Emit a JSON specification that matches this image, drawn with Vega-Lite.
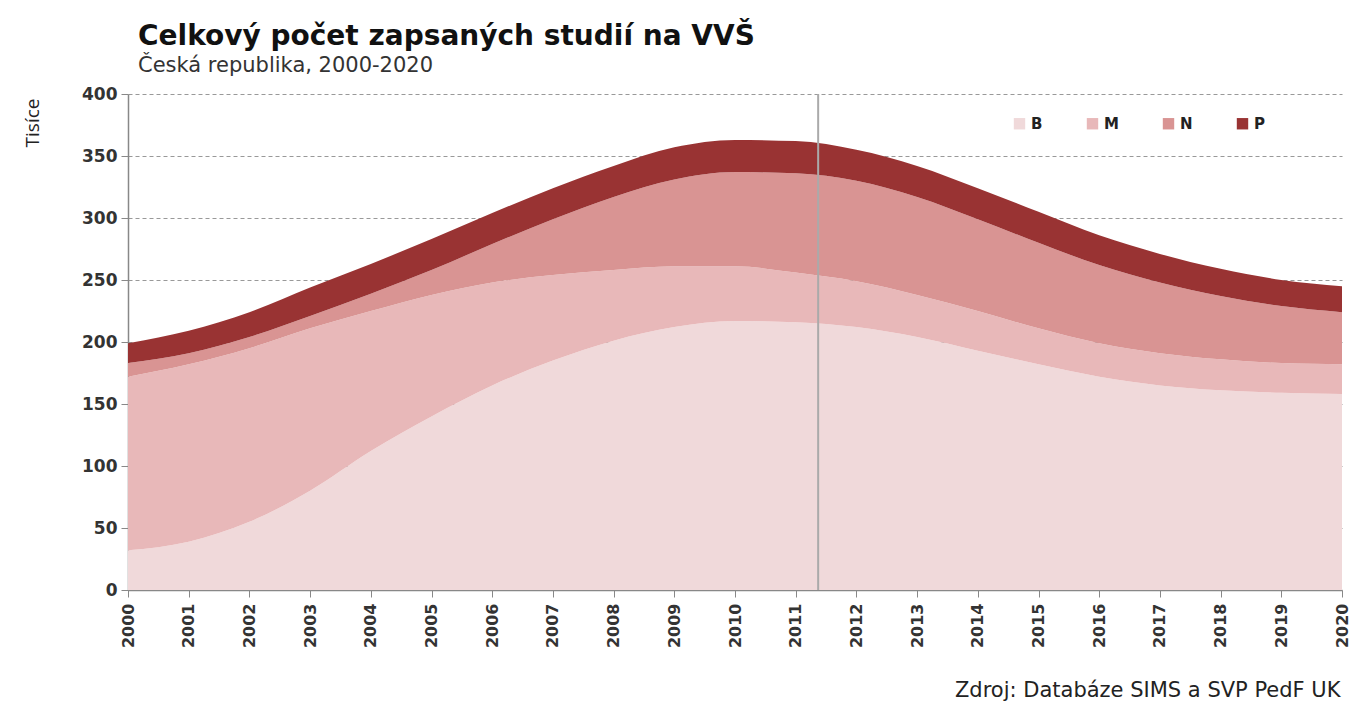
{
  "$schema": "https://vega.github.io/schema/vega-lite/v6.json",
  "width": 1214,
  "height": 496,
  "autosize": {"type": "none"},
  "padding": {"left": 128, "top": 94, "right": 15, "bottom": 111},
  "background": "white",
  "title": {
    "text": "Celkový počet zapsaných studií na VVŠ",
    "subtitle": "Česká republika, 2000-2020",
    "anchor": "start",
    "frame": "group",
    "dx": 10,
    "offset": 9,
    "font": "DejaVu Sans",
    "fontSize": 28,
    "fontWeight": "bold",
    "color": "#111",
    "subtitleFont": "DejaVu Sans",
    "subtitleFontSize": 21,
    "subtitleColor": "#333",
    "subtitlePadding": 4
  },
  "config": {
    "view": {"stroke": null},
    "axis": {"labelFont": "DejaVu Sans", "labelFontWeight": "bold", "labelColor": "#333"}
  },
  "datasets": {
    "studia": [
      {"rok": 2000, "typ": "B", "poradi": 1, "hodnota": 32},
      {"rok": 2001, "typ": "B", "poradi": 1, "hodnota": 39},
      {"rok": 2002, "typ": "B", "poradi": 1, "hodnota": 55},
      {"rok": 2003, "typ": "B", "poradi": 1, "hodnota": 80},
      {"rok": 2004, "typ": "B", "poradi": 1, "hodnota": 112},
      {"rok": 2005, "typ": "B", "poradi": 1, "hodnota": 140},
      {"rok": 2006, "typ": "B", "poradi": 1, "hodnota": 165},
      {"rok": 2007, "typ": "B", "poradi": 1, "hodnota": 185},
      {"rok": 2008, "typ": "B", "poradi": 1, "hodnota": 201},
      {"rok": 2009, "typ": "B", "poradi": 1, "hodnota": 212},
      {"rok": 2010, "typ": "B", "poradi": 1, "hodnota": 217},
      {"rok": 2011, "typ": "B", "poradi": 1, "hodnota": 216},
      {"rok": 2012, "typ": "B", "poradi": 1, "hodnota": 212},
      {"rok": 2013, "typ": "B", "poradi": 1, "hodnota": 204},
      {"rok": 2014, "typ": "B", "poradi": 1, "hodnota": 193},
      {"rok": 2015, "typ": "B", "poradi": 1, "hodnota": 182},
      {"rok": 2016, "typ": "B", "poradi": 1, "hodnota": 172},
      {"rok": 2017, "typ": "B", "poradi": 1, "hodnota": 165},
      {"rok": 2018, "typ": "B", "poradi": 1, "hodnota": 161},
      {"rok": 2019, "typ": "B", "poradi": 1, "hodnota": 159},
      {"rok": 2020, "typ": "B", "poradi": 1, "hodnota": 158},
      {"rok": 2000, "typ": "M", "poradi": 2, "hodnota": 140},
      {"rok": 2001, "typ": "M", "poradi": 2, "hodnota": 143},
      {"rok": 2002, "typ": "M", "poradi": 2, "hodnota": 140},
      {"rok": 2003, "typ": "M", "poradi": 2, "hodnota": 131},
      {"rok": 2004, "typ": "M", "poradi": 2, "hodnota": 113},
      {"rok": 2005, "typ": "M", "poradi": 2, "hodnota": 98},
      {"rok": 2006, "typ": "M", "poradi": 2, "hodnota": 83},
      {"rok": 2007, "typ": "M", "poradi": 2, "hodnota": 69},
      {"rok": 2008, "typ": "M", "poradi": 2, "hodnota": 57},
      {"rok": 2009, "typ": "M", "poradi": 2, "hodnota": 49},
      {"rok": 2010, "typ": "M", "poradi": 2, "hodnota": 44},
      {"rok": 2011, "typ": "M", "poradi": 2, "hodnota": 40},
      {"rok": 2012, "typ": "M", "poradi": 2, "hodnota": 37},
      {"rok": 2013, "typ": "M", "poradi": 2, "hodnota": 34},
      {"rok": 2014, "typ": "M", "poradi": 2, "hodnota": 32},
      {"rok": 2015, "typ": "M", "poradi": 2, "hodnota": 29},
      {"rok": 2016, "typ": "M", "poradi": 2, "hodnota": 27},
      {"rok": 2017, "typ": "M", "poradi": 2, "hodnota": 26},
      {"rok": 2018, "typ": "M", "poradi": 2, "hodnota": 25},
      {"rok": 2019, "typ": "M", "poradi": 2, "hodnota": 24},
      {"rok": 2020, "typ": "M", "poradi": 2, "hodnota": 24},
      {"rok": 2000, "typ": "N", "poradi": 3, "hodnota": 11},
      {"rok": 2001, "typ": "N", "poradi": 3, "hodnota": 9},
      {"rok": 2002, "typ": "N", "poradi": 3, "hodnota": 9},
      {"rok": 2003, "typ": "N", "poradi": 3, "hodnota": 10},
      {"rok": 2004, "typ": "N", "poradi": 3, "hodnota": 14},
      {"rok": 2005, "typ": "N", "poradi": 3, "hodnota": 20},
      {"rok": 2006, "typ": "N", "poradi": 3, "hodnota": 31},
      {"rok": 2007, "typ": "N", "poradi": 3, "hodnota": 45},
      {"rok": 2008, "typ": "N", "poradi": 3, "hodnota": 59},
      {"rok": 2009, "typ": "N", "poradi": 3, "hodnota": 70},
      {"rok": 2010, "typ": "N", "poradi": 3, "hodnota": 76},
      {"rok": 2011, "typ": "N", "poradi": 3, "hodnota": 80},
      {"rok": 2012, "typ": "N", "poradi": 3, "hodnota": 81},
      {"rok": 2013, "typ": "N", "poradi": 3, "hodnota": 79},
      {"rok": 2014, "typ": "N", "poradi": 3, "hodnota": 74},
      {"rok": 2015, "typ": "N", "poradi": 3, "hodnota": 69},
      {"rok": 2016, "typ": "N", "poradi": 3, "hodnota": 63},
      {"rok": 2017, "typ": "N", "poradi": 3, "hodnota": 57},
      {"rok": 2018, "typ": "N", "poradi": 3, "hodnota": 51},
      {"rok": 2019, "typ": "N", "poradi": 3, "hodnota": 46},
      {"rok": 2020, "typ": "N", "poradi": 3, "hodnota": 42},
      {"rok": 2000, "typ": "P", "poradi": 4, "hodnota": 16},
      {"rok": 2001, "typ": "P", "poradi": 4, "hodnota": 18},
      {"rok": 2002, "typ": "P", "poradi": 4, "hodnota": 20},
      {"rok": 2003, "typ": "P", "poradi": 4, "hodnota": 23},
      {"rok": 2004, "typ": "P", "poradi": 4, "hodnota": 24},
      {"rok": 2005, "typ": "P", "poradi": 4, "hodnota": 25},
      {"rok": 2006, "typ": "P", "poradi": 4, "hodnota": 25},
      {"rok": 2007, "typ": "P", "poradi": 4, "hodnota": 25},
      {"rok": 2008, "typ": "P", "poradi": 4, "hodnota": 25},
      {"rok": 2009, "typ": "P", "poradi": 4, "hodnota": 26},
      {"rok": 2010, "typ": "P", "poradi": 4, "hodnota": 26},
      {"rok": 2011, "typ": "P", "poradi": 4, "hodnota": 26},
      {"rok": 2012, "typ": "P", "poradi": 4, "hodnota": 25},
      {"rok": 2013, "typ": "P", "poradi": 4, "hodnota": 25},
      {"rok": 2014, "typ": "P", "poradi": 4, "hodnota": 25},
      {"rok": 2015, "typ": "P", "poradi": 4, "hodnota": 25},
      {"rok": 2016, "typ": "P", "poradi": 4, "hodnota": 24},
      {"rok": 2017, "typ": "P", "poradi": 4, "hodnota": 23},
      {"rok": 2018, "typ": "P", "poradi": 4, "hodnota": 22},
      {"rok": 2019, "typ": "P", "poradi": 4, "hodnota": 21},
      {"rok": 2020, "typ": "P", "poradi": 4, "hodnota": 21}
    ],
    "predel": [{"rok": 2011.37}]
  },
  "layer": [
    {
      "data": {"name": "studia"},
      "mark": {"type": "area", "interpolate": "monotone"},
      "encoding": {
        "x": {
          "field": "rok",
          "type": "quantitative",
          "scale": {"domain": [2000, 2020], "nice": false, "zero": false},
          "axis": {
            "values": [2000, 2001, 2002, 2003, 2004, 2005, 2006, 2007, 2008, 2009, 2010, 2011, 2012, 2013, 2014, 2015, 2016, 2017, 2018, 2019, 2020],
            "format": "d",
            "labelAngle": -90,
            "labelFontSize": 16,
            "labelPadding": 6,
            "tickSize": 7,
            "tickColor": "#888",
            "domainColor": "#888",
            "domainWidth": 1.5,
            "grid": false,
            "title": "Zdroj: Databáze SIMS a SVP PedF UK",
            "titleFont": "DejaVu Sans",
            "titleFontSize": 21,
            "titleFontWeight": "normal",
            "titleColor": "#222",
            "titleAnchor": "end",
            "titleAlign": "right",
            "titleBaseline": "middle",
            "titleY": 100,
            "titleX": 1212
          }
        },
        "y": {
          "field": "hodnota",
          "type": "quantitative",
          "stack": "zero",
          "scale": {"domain": [0, 400], "nice": false},
          "axis": {
            "values": [0, 50, 100, 150, 200, 250, 300, 350, 400],
            "labelFontSize": 17,
            "labelPadding": 4,
            "tickSize": 7,
            "tickColor": "#888",
            "domainColor": "#888",
            "domainWidth": 1.5,
            "grid": true,
            "gridColor": "#999",
            "gridDash": [4, 3],
            "gridWidth": 1,
            "title": "Tisíce",
            "titleFont": "Open Sans",
            "titleFontSize": 19,
            "titleFontWeight": "normal",
            "titleColor": "#222",
            "titleAngle": -90,
            "titleAlign": "right",
            "titleBaseline": "middle",
            "titleX": -96,
            "titleY": 4
          }
        },
        "color": {
          "field": "typ",
          "type": "nominal",
          "scale": {"domain": ["B", "M", "N", "P"], "range": ["#F0D9DA", "#E8B8B9", "#D99493", "#993333"]},
          "legend": {
            "orient": "none",
            "legendX": 884,
            "legendY": 22,
            "direction": "horizontal",
            "title": null,
            "symbolType": "square",
            "symbolSize": 130,
            "symbolStrokeWidth": 0,
            "labelFont": "DejaVu Sans",
            "labelFontWeight": "bold",
            "labelFontSize": 15,
            "labelColor": "#222",
            "labelOffset": 4,
            "columnPadding": 42
          }
        },
        "order": {"field": "poradi", "type": "quantitative"}
      }
    },
    {
      "data": {"name": "predel"},
      "mark": {"type": "rule", "color": "#aaa", "strokeWidth": 2},
      "encoding": {
        "x": {"field": "rok", "type": "quantitative"}
      }
    }
  ]
}
